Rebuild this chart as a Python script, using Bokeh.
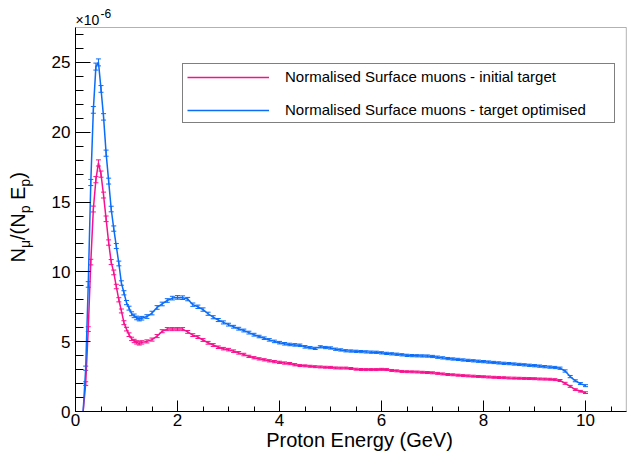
import math
from bokeh.plotting import figure
from bokeh.models import (ColumnDataSource, Range1d, SingleIntervalTicker, Legend,
                          LegendItem, Whisker, TeeHead, Label, BoxAnnotation)
from bokeh.embed import file_html
from bokeh.resources import INLINE

# ---------------- data (y values in units of 1e-6) ----------------
energy_gev = [
    0.15, 0.20, 0.25, 0.30, 0.35, 0.40, 0.45, 0.50, 0.55, 0.60, 0.65, 0.70,
    0.75, 0.80, 0.85, 0.90, 0.95, 1.00, 1.05, 1.10, 1.15, 1.20, 1.25, 1.30,
    1.4, 1.5, 1.6, 1.7, 1.8, 1.9, 2.0, 2.1, 2.2, 2.3, 2.4, 2.5, 2.6, 2.7, 2.8, 2.9,
    3.0, 3.1, 3.2, 3.3, 3.4, 3.5, 3.6, 3.7, 3.8, 3.9, 4.0, 4.1, 4.2, 4.3, 4.4, 4.5,
    4.6, 4.7, 4.8, 4.9, 5.0, 5.1, 5.2, 5.3, 5.4, 5.5, 5.6, 5.7, 5.8, 5.9, 6.0, 6.1,
    6.2, 6.3, 6.4, 6.5, 6.6, 6.7, 6.8, 6.9, 7.0, 7.1, 7.2, 7.3, 7.4, 7.5, 7.6, 7.7,
    7.8, 7.9, 8.0, 8.1, 8.2, 8.3, 8.4, 8.5, 8.6, 8.7, 8.8, 8.9, 9.0, 9.1, 9.2, 9.3,
    9.4, 9.5, 9.6, 9.7, 9.8, 9.9, 10.0,
]

initial_target = [
    0.0, 2.0, 5.9, 10.7, 14.5, 16.6, 17.8, 17.0, 15.5, 13.8, 12.1, 10.7,
    9.96, 8.95, 8.0, 7.2, 6.36, 5.9, 5.5, 5.2, 5.05, 4.95, 4.88, 4.95,
    5.02, 5.15, 5.4, 5.75, 5.9, 5.9, 5.9, 5.9, 5.7, 5.47, 5.33, 5.12, 4.92, 4.76, 4.6, 4.5,
    4.43, 4.32, 4.2, 4.08, 3.95, 3.85, 3.77, 3.7, 3.63, 3.57, 3.52, 3.47, 3.43, 3.35, 3.29, 3.27,
    3.24, 3.21, 3.19, 3.17, 3.16, 3.12, 3.11, 3.11, 3.08, 3.03, 3.01, 3.0, 3.0, 3.0, 3.02, 3.0,
    2.94, 2.91, 2.87, 2.85, 2.84, 2.83, 2.81, 2.79, 2.77, 2.73, 2.69, 2.65, 2.63, 2.6, 2.57, 2.55,
    2.53, 2.51, 2.49, 2.47, 2.45, 2.43, 2.42, 2.4, 2.39, 2.38, 2.37, 2.36, 2.35, 2.33, 2.32, 2.31,
    2.28, 2.22, 2.02, 1.8, 1.57, 1.45, 1.35,
]

initial_err = [
    0.0, 0.13, 0.17, 0.2, 0.21, 0.22, 0.22, 0.22, 0.21, 0.2, 0.19, 0.18,
    0.17, 0.16, 0.15, 0.14, 0.14, 0.13, 0.13, 0.12, 0.12, 0.12, 0.12, 0.12,
    0.11, 0.11, 0.11, 0.11, 0.11, 0.11, 0.11, 0.11, 0.1, 0.1, 0.1, 0.1, 0.1, 0.1, 0.09, 0.09,
    0.09, 0.09, 0.09, 0.09, 0.08, 0.08, 0.08, 0.08, 0.08, 0.08, 0.08, 0.08, 0.08, 0.08, 0.07, 0.07,
    0.07, 0.07, 0.07, 0.07, 0.07, 0.07, 0.07, 0.07, 0.07, 0.07, 0.07, 0.07, 0.07, 0.07, 0.07, 0.07,
    0.07, 0.07, 0.07, 0.07, 0.07, 0.07, 0.07, 0.07, 0.07, 0.07, 0.07, 0.07, 0.07, 0.07, 0.07, 0.07,
    0.07, 0.07, 0.07, 0.07, 0.07, 0.07, 0.07, 0.07, 0.07, 0.07, 0.07, 0.07, 0.07, 0.07, 0.07, 0.07,
    0.07, 0.07, 0.07, 0.07, 0.06, 0.06, 0.06,
]

optimised_target = [
    0.0, 3.1, 9.1, 16.4, 21.6, 24.7, 25.0, 23.1, 21.1, 18.5, 16.5, 14.5,
    13.1, 11.85, 10.6, 9.2, 8.5, 7.8, 7.4, 7.0, 6.85, 6.7, 6.62, 6.68,
    6.8, 7.05, 7.45, 7.7, 7.95, 8.12, 8.17, 8.15, 8.05, 7.65, 7.5, 7.3, 7.0, 6.75, 6.55, 6.38,
    6.22, 6.07, 5.93, 5.8, 5.65, 5.5, 5.37, 5.25, 5.13, 5.02, 4.93, 4.85, 4.8, 4.77, 4.74, 4.63,
    4.57, 4.52, 4.63, 4.58, 4.55, 4.46, 4.41, 4.35, 4.33, 4.31, 4.29, 4.27, 4.25, 4.24, 4.2, 4.16,
    4.13, 4.1, 4.06, 4.02, 4.0, 3.99, 3.98, 3.97, 3.94, 3.89, 3.84, 3.79, 3.76, 3.73, 3.69, 3.66,
    3.63, 3.6, 3.57, 3.54, 3.51, 3.48, 3.45, 3.43, 3.4, 3.37, 3.34, 3.31, 3.28, 3.25, 3.21, 3.18,
    3.15, 3.1, 2.9, 2.5, 2.2, 2.0, 1.85,
]

optimised_err = [
    0.0, 0.15, 0.2, 0.22, 0.24, 0.25, 0.25, 0.24, 0.23, 0.22, 0.21, 0.2,
    0.19, 0.18, 0.17, 0.16, 0.15, 0.15, 0.14, 0.14, 0.13, 0.13, 0.13, 0.13,
    0.13, 0.13, 0.13, 0.13, 0.13, 0.13, 0.13, 0.13, 0.12, 0.12, 0.12, 0.12, 0.11, 0.11, 0.11, 0.11,
    0.1, 0.1, 0.1, 0.1, 0.1, 0.1, 0.09, 0.09, 0.09, 0.09, 0.09, 0.09, 0.09, 0.09, 0.09, 0.09,
    0.08, 0.08, 0.08, 0.08, 0.08, 0.08, 0.08, 0.08, 0.08, 0.08, 0.08, 0.08, 0.08, 0.08, 0.08, 0.08,
    0.08, 0.08, 0.08, 0.08, 0.08, 0.08, 0.08, 0.08, 0.08, 0.08, 0.08, 0.08, 0.08, 0.08, 0.08, 0.08,
    0.08, 0.08, 0.08, 0.08, 0.08, 0.08, 0.08, 0.08, 0.08, 0.08, 0.08, 0.08, 0.08, 0.08, 0.08, 0.08,
    0.08, 0.08, 0.08, 0.08, 0.07, 0.07, 0.07,
]

series_labels = ["Normalised Surface muons - initial target",
                 "Normalised Surface muons - target optimised"]
series_colors = ["#f7108f", "#0a6cf7"]
x_label = "Proton Energy (GeV)"
y_exponent_base = "\u00d710"
y_exponent = "-6"

FONT = "Liberation Sans"

# ---------------- layout (pixels) ----------------
W, H = 628, 451
AX_LEFT_PX, AX_BOTTOM_PX, AX_TOP_PX = 75, 411, 27   # ROOT-style frame position on canvas
PX_PER_X = 51.0                                        # pixels per GeV
X_MAX, Y_MAX = 10.8, 27.5                              # axis (frame) extents
PX_PER_Y = (AX_BOTTOM_PX - AX_TOP_PX) / Y_MAX

def dx(px):   # canvas x pixel -> data x
    return (px - AX_LEFT_PX) / PX_PER_X

def dy(py):   # canvas y pixel -> data y
    return (AX_BOTTOM_PX - py) / PX_PER_Y

p = figure(width=W, height=H, output_backend="svg", toolbar_location=None,
           x_range=Range1d(dx(0), dx(W)), y_range=Range1d(dy(H), dy(0)))
p.min_border = 0
p.min_border_left = 0
p.min_border_right = 0
p.min_border_top = 0
p.min_border_bottom = 0
p.background_fill_color = "white"
p.border_fill_color = "white"
p.outline_line_color = None
p.xgrid.visible = False
p.ygrid.visible = False

# axes drawn at the ROOT frame position
p.xaxis.fixed_location = 0
p.yaxis.fixed_location = 0
p.xaxis.bounds = (0, X_MAX)
p.yaxis.bounds = (0, Y_MAX)
p.xaxis.ticker = SingleIntervalTicker(interval=2, num_minor_ticks=4)
p.yaxis.ticker = SingleIntervalTicker(interval=5, num_minor_ticks=5)
for ax in (p.xaxis[0], p.yaxis[0]):
    ax.axis_line_color = "black"
    ax.major_tick_line_color = "black"
    ax.minor_tick_line_color = "black"
    ax.major_tick_out = 0
    ax.minor_tick_out = 0
    ax.major_label_text_font = FONT
    ax.major_label_text_font_size = "17px"
    ax.major_label_text_color = "black"
p.xaxis.major_tick_in = 11
p.xaxis.minor_tick_in = 5
p.yaxis.major_tick_in = 15
p.yaxis.minor_tick_in = 8
p.xaxis.major_label_standoff = 2
p.yaxis.major_label_standoff = 5

# frame box
p.add_layout(BoxAnnotation(left=0, right=X_MAX, bottom=0, top=Y_MAX,
                           fill_alpha=0, line_color="black", line_width=1))

renderers = []
for yv, err, col in ((initial_target, initial_err, series_colors[0]),
                     (optimised_target, optimised_err, series_colors[1])):
    src = ColumnDataSource(dict(
        x=energy_gev, y=yv,
        upper=[a + b for a, b in zip(yv, err)],
        lower=[a - b for a, b in zip(yv, err)]))
    r = p.line("x", "y", source=src, line_color=col, line_width=1.5)
    w = Whisker(source=src, base="x", upper="upper", lower="lower",
                line_color=col, line_width=1,
                upper_head=TeeHead(size=5, line_color=col, line_width=1),
                lower_head=TeeHead(size=5, line_color=col, line_width=1))
    p.add_layout(w)
    renderers.append(r)

legend = Legend(items=[LegendItem(label=series_labels[0], renderers=[renderers[0]]),
                       LegendItem(label=series_labels[1], renderers=[renderers[1]])],
                location=(182, H - 123), orientation="vertical",
                label_text_font=FONT, label_text_font_size="15px",
                label_text_color="black",
                glyph_width=82, glyph_height=16, label_height=16, label_width=325,
                label_standoff=16, padding=4, spacing=16, margin=0,
                border_line_color="black", border_line_width=1,
                background_fill_color="white", background_fill_alpha=1.0)
p.add_layout(legend)

# x-axis title (vertical middle of text given)
p.add_layout(Label(x=dx(359), y=dy(439), text=x_label, text_font=FONT,
                   text_font_size="20px", text_color="black",
                   text_align="center", text_baseline="middle"))

# y-axis title N_mu/(N_p E_p) built from rotated pieces
main_fs, sub_fs = 20, 14
pieces = [("N", False, 0.722), ("\u03bc", True, 0.576), ("/(N", False, 1.333),
          ("p", True, 0.556), (" ", False, 0.278), ("E", False, 0.667),
          ("p", True, 0.556), (")", False, 0.333)]
ypix = 262.0
for txt, sub, adv in pieces:
    fs = sub_fs if sub else main_fs
    if txt.strip():
        p.add_layout(Label(x=dx(24 if sub else 17), y=dy(ypix),
                           text=txt, angle=math.pi / 2, text_font=FONT,
                           text_font_size=f"{fs}px", text_color="black",
                           text_align="left", text_baseline="middle"))
    ypix -= adv * fs

# multiplier x10^-6
p.add_layout(Label(x=dx(75), y=dy(19), text=y_exponent_base,
                   text_font=FONT, text_font_size="14px", text_color="black",
                   text_align="left", text_baseline="middle"))
p.add_layout(Label(x=dx(100), y=dy(13), text=y_exponent,
                   text_font=FONT, text_font_size="12px", text_color="black",
                   text_align="left", text_baseline="middle"))

open("out.html", "w").write(file_html(p, INLINE))
